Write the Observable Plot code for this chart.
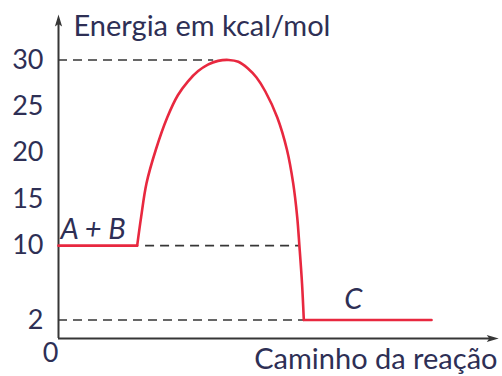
<!DOCTYPE html>
<html>
<head>
<meta charset="utf-8">
<script src="https://cdn.jsdelivr.net/npm/d3@7"></script>
<script src="https://cdn.jsdelivr.net/npm/@observablehq/plot@0.6"></script>
<style>
  body { margin: 0; background: #fff; }
</style>
</head>
<body>
<div id="chart"></div>
<script>
// Reaction coordinate (arbitrary units, 0–100) and energy (kcal/mol) along the path
const pathX = [0, 17.8, 18.7, 19.9, 22.0, 24.6, 27.0, 29.3, 31.6, 33.8, 36.1, 38.5, 40.7, 42.8, 44.8, 46.8, 49.5, 51.7, 53.1, 54.0, 54.5, 55.1, 55.5, 84.4];
const pathE = [10, 10, 13.1, 16.7, 20.3, 23.8, 26.2, 27.7, 28.8, 29.5, 29.9, 30, 29.8, 29.1, 28.1, 26.6, 23.8, 20.3, 16.7, 13.1, 10, 5.9, 2, 2];

// Energy ticks on the vertical axis
const yTicks = [2, 10, 15, 20, 25, 30];
const originLabel = "0";

// Dashed reference levels: energy and horizontal extent
const guideLevels = [30, 10, 2];
const guideFrom = [0, 19.7, 0];
const guideTo = [35.1, 54.5, 55.5];

// State labels: reactants and product
const stateLabels = ["A + B", "C"];
const stateX = [0, 66.7];
const stateE = [10, 2];

const yTitle = "Energia em kcal/mol";
const xTitle = "Caminho da reação";

const path = pathX.map((x, i) => ({x, e: pathE[i]}));
const last = path.length - 1;
const reactants = path.slice(0, 2);
const hump = path.slice(1, last);
const products = path.slice(last - 1);
const guides = guideLevels.map((e, i) => ({e, x1: guideFrom[i], x2: guideTo[i]}));
const states = stateLabels.map((t, i) => ({t, x: stateX[i], e: stateE[i]}));

const ink = "#2e2f55";
const axisInk = "#363636";
const red = "#e8283f";

// Filled arrowheads whose tip sits at the dot position
const arrowUp = {draw(ctx) { ctx.moveTo(0, 0); ctx.lineTo(3.6, 12); ctx.lineTo(0, 9.5); ctx.lineTo(-3.6, 12); ctx.closePath(); }};
const arrowRight = {draw(ctx) { ctx.moveTo(0, 0); ctx.lineTo(-12, 3.6); ctx.lineTo(-9.5, 0); ctx.lineTo(-12, -3.6); ctx.closePath(); }};

const chart = Plot.plot({
  width: 502,
  height: 376,
  marginLeft: 58,
  marginRight: 2,
  marginTop: 0,
  marginBottom: 38,
  style: {fontFamily: "Lato, sans-serif", fontSize: "27px", color: ink, background: "#fff"},
  x: {domain: [0, 100], axis: null},
  y: {domain: [0, 36.4], ticks: yTicks, tickSize: 0, tickPadding: 15, tickFormat: d => String(d), label: null},
  marks: [
    Plot.ruleY(guides, {y: "e", x1: "x1", x2: "x2", stroke: axisInk, strokeWidth: 1.6, strokeDasharray: "9,6"}),
    Plot.ruleX([0], {y1: 0, y2: 34, stroke: axisInk, strokeWidth: 2}),
    Plot.ruleY([0], {x1: 0, x2: 98, stroke: axisInk, strokeWidth: 2}),
    Plot.dot([0], {x: 0, y: 34.9, symbol: arrowUp, r: 4, fill: axisInk, stroke: null}),
    Plot.dot([0], {x: 99.6, y: 0, symbol: arrowRight, r: 4, fill: axisInk, stroke: null}),
    Plot.line(reactants, {x: "x", y: "e", stroke: red, strokeWidth: 2.6}),
    Plot.line(hump, {x: "x", y: "e", stroke: red, strokeWidth: 2.6, curve: "catmull-rom"}),
    Plot.line(products, {x: "x", y: "e", stroke: red, strokeWidth: 2.6}),
    Plot.text(states.slice(0, 1), {x: "x", y: "e", text: "t", textAnchor: "start", lineAnchor: "bottom", dx: 2, dy: -7, fontSize: 29, fontStyle: "italic", fill: ink}),
    Plot.text(states.slice(1), {x: "x", y: "e", text: "t", textAnchor: "middle", lineAnchor: "bottom", dy: -11, fontSize: 29, fontStyle: "italic", fill: ink}),
    Plot.text([originLabel], {x: 0, y: 0, text: d => d, textAnchor: "middle", lineAnchor: "top", dx: -8, dy: 4, fill: ink}),
    Plot.text([yTitle], {frameAnchor: "top-left", text: d => d, textAnchor: "start", lineAnchor: "bottom", dx: 15, dy: 35, fontSize: 29, fill: ink}),
    Plot.text([xTitle], {frameAnchor: "bottom-right", text: d => d, textAnchor: "end", lineAnchor: "bottom", dx: -3, dy: 30, fontSize: 29, fill: ink})
  ]
});

document.getElementById("chart").appendChild(chart);
</script>
</body>
</html>
